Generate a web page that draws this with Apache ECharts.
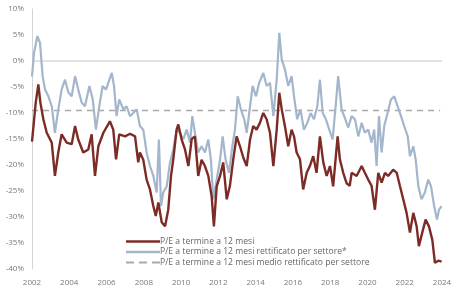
<!DOCTYPE html>
<html><head><meta charset="utf-8">
<script src="https://cdn.jsdelivr.net/npm/echarts@6/dist/echarts.min.js"></script>
<style>html,body{margin:0;padding:0;background:#fff}#c{width:464px;height:300px}</style>
</head><body><div id="c"></div>
<script>
const seriesNames = ["P/E a termine a 12 mesi","P/E a termine a 12 mesi rettificato per settore*","P/E a termine a 12 mesi medio rettificato per settore"];
const redYears = [2002.00,2002.08,2002.20,2002.34,2002.45,2002.61,2002.79,2003.06,2003.23,2003.41,2003.59,2003.86,2004.13,2004.31,2004.48,2004.75,2005.02,2005.20,2005.38,2005.56,2005.83,2006.18,2006.36,2006.51,2006.68,2006.99,2007.26,2007.53,2007.70,2007.79,2007.97,2008.15,2008.33,2008.51,2008.64,2008.78,2008.96,2009.14,2009.31,2009.46,2009.58,2009.76,2009.85,2010.03,2010.21,2010.39,2010.57,2010.74,2010.92,2011.10,2011.28,2011.46,2011.64,2011.76,2011.91,2012.09,2012.26,2012.45,2012.62,2012.80,2012.98,2013.16,2013.34,2013.52,2013.70,2013.87,2014.05,2014.23,2014.41,2014.59,2014.77,2014.95,2015.13,2015.27,2015.40,2015.57,2015.75,2015.93,2016.06,2016.20,2016.38,2016.55,2016.74,2016.91,2017.09,2017.27,2017.45,2017.63,2017.81,2017.99,2018.16,2018.40,2018.52,2018.70,2018.88,2019.05,2019.15,2019.42,2019.69,2019.86,2020.04,2020.22,2020.40,2020.58,2020.76,2020.94,2021.11,2021.38,2021.57,2021.74,2021.92,2022.10,2022.28,2022.46,2022.64,2022.76,2022.94,2023.12,2023.30,2023.48,2023.62,2023.80,2023.98];
const redVals = [-15.5,-12.5,-8,-4.5,-8,-11.2,-13.8,-15.7,-22.1,-17.6,-14.1,-15.7,-16,-12.5,-15.1,-17.6,-17,-14.1,-22.1,-16.4,-13.8,-11.6,-13.2,-18.9,-14.1,-14.5,-14,-14.5,-19.5,-17.6,-19,-22.8,-24.7,-27.9,-29.8,-27.2,-31,-31.8,-28.6,-22.1,-18.9,-13.2,-12.2,-15.1,-17,-20.2,-15,-14.5,-22.1,-19,-20.2,-22.1,-26,-31.8,-24.1,-22.1,-19.5,-26.6,-24,-18.9,-14.5,-16.4,-18.6,-20.2,-15.1,-12.5,-13.2,-11.9,-10,-11.2,-13.8,-20.2,-13.2,-6.1,-9.3,-12.5,-16.4,-13.2,-14.5,-17.6,-18.9,-24.7,-21.5,-20.2,-18.3,-21.5,-14.5,-19.5,-22.1,-20.2,-24.1,-14.5,-18.9,-21.5,-23.5,-24,-21.5,-22.1,-20.2,-21.5,-22.8,-24,-28.6,-21.5,-23.4,-21.5,-22.1,-20.9,-21.5,-24,-26.6,-29.2,-33,-29.2,-31.8,-35.6,-33,-30.5,-31.8,-34.4,-38.8,-38.4,-38.6];
const blueYears = [2002.00,2002.11,2002.29,2002.43,2002.57,2002.70,2002.88,2003.06,2003.23,2003.41,2003.59,2003.77,2003.95,2004.13,2004.31,2004.48,2004.67,2004.84,2005.08,2005.26,2005.43,2005.61,2005.79,2005.97,2006.15,2006.28,2006.40,2006.54,2006.68,2006.90,2007.08,2007.26,2007.43,2007.62,2007.79,2007.97,2008.15,2008.33,2008.51,2008.69,2008.81,2008.92,2009.04,2009.23,2009.40,2009.58,2009.76,2009.94,2010.12,2010.30,2010.48,2010.60,2010.74,2010.92,2011.10,2011.28,2011.46,2011.60,2011.73,2011.91,2012.09,2012.23,2012.39,2012.57,2012.75,2012.89,2013.04,2013.21,2013.39,2013.52,2013.70,2013.84,2014.02,2014.19,2014.41,2014.59,2014.77,2014.95,2015.13,2015.27,2015.40,2015.57,2015.75,2015.93,2016.06,2016.23,2016.41,2016.59,2016.77,2016.95,2017.13,2017.31,2017.45,2017.60,2017.77,2017.95,2018.13,2018.31,2018.43,2018.61,2018.79,2018.97,2019.15,2019.33,2019.51,2019.69,2019.86,2020.04,2020.22,2020.36,2020.49,2020.62,2020.76,2020.90,2021.08,2021.26,2021.44,2021.62,2021.80,2021.97,2022.16,2022.28,2022.46,2022.59,2022.73,2022.90,2023.08,2023.26,2023.41,2023.58,2023.73,2023.84,2023.98];
const blueVals = [-3,1.6,4.8,3.5,-2.9,-5.5,-6.8,-8.7,-13.8,-9.3,-5.5,-3.6,-6,-6.8,-2.9,-5.5,-8,-8.7,-4.8,-7.4,-13.2,-8.7,-4.8,-5.5,-3.6,-2.3,-4.8,-10.6,-7.4,-9.3,-8.7,-10.6,-10,-9.3,-12.5,-13.2,-17.6,-20.2,-22.1,-25.3,-15.1,-27.9,-25.3,-24.1,-19.6,-17,-13.2,-13.8,-15.1,-13.2,-15.7,-10.6,-13.8,-17.6,-16.4,-17.6,-15.1,-19,-26.6,-22.8,-19,-14.5,-19,-21.5,-16.4,-13.2,-6.8,-9.3,-11.2,-13.8,-8.7,-4.8,-6.8,-4.2,-2.3,-4.8,-4.2,-10.6,-3.6,5.4,0.3,-1.6,-4.8,-2.9,-6.8,-11.2,-9.3,-13.2,-11.9,-10,-11.2,-8.7,-3.6,-10,-11.2,-13.2,-15.1,-8,-2.9,-9.3,-11,-12.8,-10.6,-11.2,-14.5,-11.9,-13.8,-13.2,-15.7,-13.2,-20.2,-10.6,-17.6,-12.5,-10,-7.4,-6.8,-8.7,-10.6,-12.5,-14.5,-18.3,-16.4,-19,-24.1,-26.6,-25.3,-22.8,-24.1,-27.9,-30.5,-28.6,-27.9];
const avgValue = -9.5;
const xTicks = {min: 2002, max: 2024, interval: 2};
const yTicks = {min: -40, max: 10, interval: 5};

const RED = '#7d2b25', BLUE = '#a3b6cc', GREY = '#a9a9a9';
const zip = (a, b) => a.map((v, i) => [v, b[i]]);
const font = '"Open Sans", sans-serif';
const chart = echarts.init(document.getElementById('c'), null, {renderer: 'canvas'});
chart.setOption({
  animation: false,
  backgroundColor: '#fff',
  grid: {left: 32, right: 22, top: 9, bottom: 31, containLabel: false},
  xAxis: {
    type: 'value', min: xTicks.min, max: xTicks.max, interval: xTicks.interval,
    axisLine: {show: false}, axisTick: {show: false}, splitLine: {show: false},
    axisLabel: {margin: 10, color: '#7a7a7a', fontSize: 8, fontFamily: font, formatter: v => String(v)}
  },
  yAxis: {
    type: 'value', min: yTicks.min, max: yTicks.max, interval: yTicks.interval,
    axisLine: {show: true, lineStyle: {color: '#d4d4d4', width: 1}},
    axisTick: {show: false}, splitLine: {show: false},
    axisLabel: {margin: 8, color: '#7a7a7a', fontSize: 8, fontFamily: font, formatter: '{value}%'}
  },
  legend: {
    data: [
      {name: seriesNames[0], icon: 'rect', itemStyle: {color: RED}},
      {name: seriesNames[1], icon: 'rect', itemStyle: {color: BLUE}},
      {name: seriesNames[2], icon: 'path://M0,0h8v2h-8z M13,0h8v2h-8z M26,0h8v2h-8z', itemStyle: {color: GREY}}
    ],
    orient: 'vertical', left: 121, top: 232,
    itemWidth: 34, itemHeight: 2.5, itemGap: 1.5,
    textStyle: {color: '#666', fontSize: 8.6, fontFamily: font, padding: [0, 0, 0, -5]}
  },
  series: [
    {name: 'zero', type: 'line', data: [[xTicks.min, 0], [xTicks.max, 0]], symbol: 'none', silent: true,
     lineStyle: {color: '#c8c8c8', width: 1.2}, z: 1},
    {name: seriesNames[0], type: 'line', data: zip(redYears, redVals), symbol: 'none',
     lineStyle: {color: RED, width: 2.4}, itemStyle: {color: RED}, z: 3},
    {name: seriesNames[1], type: 'line', data: zip(blueYears, blueVals), symbol: 'none',
     lineStyle: {color: BLUE, width: 2.2}, itemStyle: {color: BLUE}, z: 2},
    {name: seriesNames[2], type: 'line', data: [[xTicks.min, avgValue], [2023.9, avgValue]], symbol: 'none',
     lineStyle: {color: GREY, width: 1.5, type: [6, 5]}, itemStyle: {color: GREY}, z: 1}
  ]
});
</script></body></html>
